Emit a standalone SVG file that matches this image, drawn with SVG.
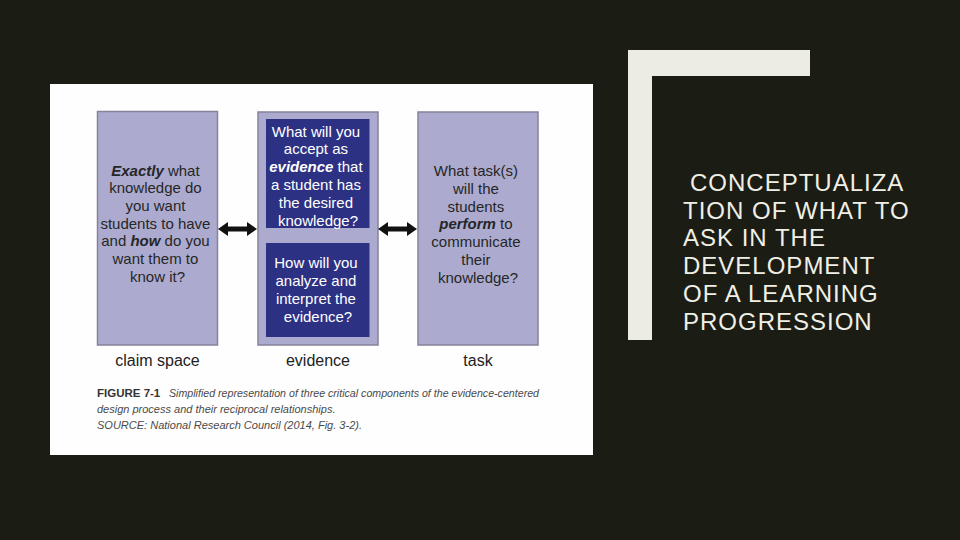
<svg xmlns="http://www.w3.org/2000/svg" width="960" height="540" viewBox="0 0 960 540">
  <defs>
    <style>
      .box { fill: #acabcf; stroke: #84839a; stroke-width: 1.5; }
      .inner { fill: #2d3184; }
      .t { font-family: "Liberation Sans", Arial, sans-serif; font-size: 15px; fill: #262626; text-anchor: middle; }
      .w { fill: #ffffff; }
      .em { font-style: italic; font-weight: bold; }
      .lbl { font-family: "Liberation Sans", Arial, sans-serif; font-size: 16px; fill: #222222; text-anchor: middle; }
      .cap { font-family: "Liberation Sans", Arial, sans-serif; font-size: 11px; fill: #4a4a4a; font-style: italic; }
      .title { font-family: "Liberation Sans", Arial, sans-serif; font-size: 24px; fill: #f0efe6; letter-spacing: 1px; }
      .conn { stroke: #111111; stroke-width: 5; }
    </style>
    <marker id="head" viewBox="0 0 10 14" refX="0" refY="7" markerWidth="10" markerHeight="14" markerUnits="userSpaceOnUse" orient="auto-start-reverse">
      <path d="M0,0 L10,7 L0,14 z" fill="#111111"/>
    </marker>
  </defs>

  <rect x="0" y="0" width="960" height="540" fill="#1b1c13"/>

  <rect id="panel" x="50" y="84" width="543" height="371" fill="#fefefe"/>

  <g id="claim">
    <rect class="box" x="97.5" y="111.5" width="120" height="233.5"/>
    <text class="t">
      <tspan x="157.5" y="175.5"><tspan class="em">Exactly</tspan> what</tspan>
      <tspan x="157.5" y="193.2">knowledge do</tspan>
      <tspan x="157.5" y="210.9">you want</tspan>
      <tspan x="157.5" y="228.6">students to have</tspan>
      <tspan x="157.5" y="246.3">and <tspan class="em">how</tspan> do you</tspan>
      <tspan x="157.5" y="264">want them to</tspan>
      <tspan x="157.5" y="281.7">know it?</tspan>
    </text>
    <text class="lbl" x="157.5" y="366">claim space</text>
  </g>

  <g id="evidence">
    <rect class="box" x="258" y="112" width="120" height="233"/>
    <rect class="inner" x="266" y="119" width="103.5" height="109"/>
    <text class="t w">
      <tspan x="318" y="136.5">What will you</tspan>
      <tspan x="318" y="154.4">accept as</tspan>
      <tspan x="318" y="172.3"><tspan class="em">evidence</tspan> that</tspan>
      <tspan x="318" y="190.2">a student has</tspan>
      <tspan x="318" y="208.1">the desired</tspan>
      <tspan x="318" y="226">knowledge?</tspan>
    </text>
    <rect class="inner" x="266" y="243" width="103.5" height="94"/>
    <text class="t w">
      <tspan x="318" y="268.3">How will you</tspan>
      <tspan x="318" y="286.1">analyze and</tspan>
      <tspan x="318" y="303.9">interpret the</tspan>
      <tspan x="318" y="321.7">evidence?</tspan>
    </text>
    <text class="lbl" x="318" y="366">evidence</text>
  </g>

  <g id="task">
    <rect class="box" x="418" y="112" width="120" height="233"/>
    <text class="t">
      <tspan x="478" y="176">What task(s)</tspan>
      <tspan x="478" y="193.8">will the</tspan>
      <tspan x="478" y="211.6">students</tspan>
      <tspan x="478" y="229.4"><tspan class="em">perform</tspan> to</tspan>
      <tspan x="478" y="247.2">communicate</tspan>
      <tspan x="478" y="265">their</tspan>
      <tspan x="478" y="282.8">knowledge?</tspan>
    </text>
    <text class="lbl" x="478" y="366">task</text>
  </g>

  <g id="connectors">
    <line class="conn" x1="228" y1="229" x2="247" y2="229" marker-start="url(#head)" marker-end="url(#head)"/>
    <line class="conn" x1="388" y1="229" x2="407" y2="229" marker-start="url(#head)" marker-end="url(#head)"/>
  </g>

  <g id="caption">
    <text x="97" y="397" font-family="'Liberation Sans', Arial, sans-serif" font-size="11.5" font-weight="bold" fill="#333333">FIGURE 7-1</text>
    <text class="cap" x="169" y="397" textLength="370" lengthAdjust="spacingAndGlyphs">Simplified representation of three critical components of the evidence-centered</text>
    <text class="cap" x="97" y="413">design process and their reciprocal relationships.</text>
    <text class="cap" x="97" y="429" textLength="265" lengthAdjust="spacingAndGlyphs">SOURCE: National Research Council (2014, Fig. 3-2).</text>
  </g>

  <g id="title-block">
    <path d="M628,50 H810 V76 H652 V340 H628 Z" fill="#edece4"/>
    <text class="title">
      <tspan x="690" y="190.7">CONCEPTUALIZA</tspan>
      <tspan x="683" y="218.5">TION OF WHAT TO</tspan>
      <tspan x="683" y="246.3">ASK IN THE</tspan>
      <tspan x="683" y="274.1">DEVELOPMENT</tspan>
      <tspan x="683" y="301.9">OF A LEARNING</tspan>
      <tspan x="683" y="329.7">PROGRESSION</tspan>
    </text>
  </g>
</svg>
